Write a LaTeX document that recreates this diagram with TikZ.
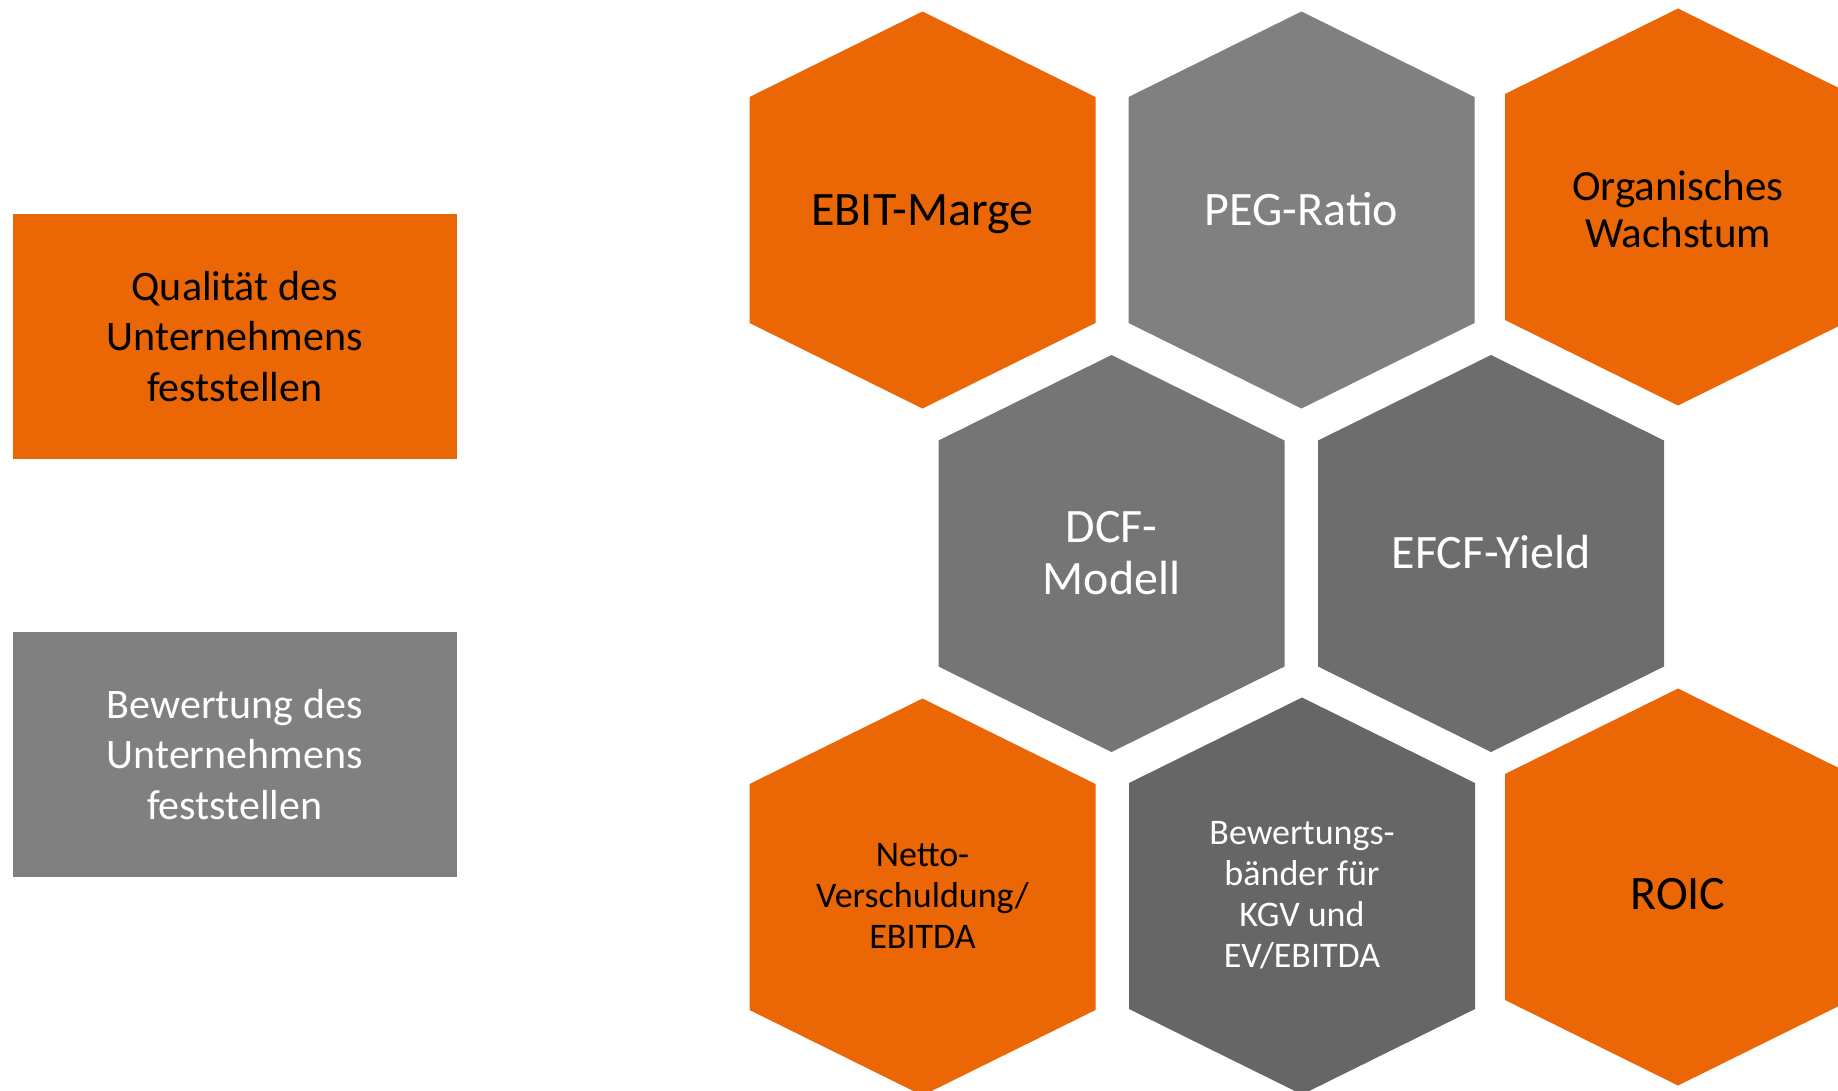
\documentclass[tikz,border=0pt]{standalone}
\usepackage{fontspec}
\setmainfont{Carlito}
\definecolor{kpiorange}{RGB}{235,102,4}
\definecolor{kpigrayA}{RGB}{128,128,128}
\definecolor{kpigrayB}{RGB}{117,117,117}
\definecolor{kpigrayC}{RGB}{109,109,109}
\definecolor{kpigrayD}{RGB}{102,102,102}

\begin{document}
\begin{tikzpicture}[x=1pt,y=-1pt,
        box/.style={rectangle,inner sep=0pt,minimum width=444pt,minimum height=244.7pt,
            align=center,font=\fontsize{42}{50.4}\selectfont},
        hexlabel/.style={inner sep=0pt,align=center,font=\fontsize{48}{52}\selectfont},
        hexsmall/.style={inner sep=0pt,align=center,font=\fontsize{36}{41}\selectfont}
    ]
    \useasboundingbox (0,0) rectangle (1838,1090);
    \clip (0,0) rectangle (1838,1090);

    % two category boxes
    \node[box,fill=kpiorange,text=black] (quali) at (234.7,336.3)
        {Qualit\"at des\\Unternehmens\\feststellen};
    \node[box,fill=kpigrayA,text=white] (bewert) at (234.7,754.3)
        {Bewertung des\\Unternehmens\\feststellen};

    % honeycomb
    \foreach \cx/\cy/\col in {922.5/210/kpiorange, 1301.5/210/kpigrayA, 1678/207/kpiorange,
            1111.5/553.5/kpigrayB, 1491/553.5/kpigrayC,
            922.5/897/kpiorange, 1302/896/kpigrayD, 1678/887/kpiorange}
        \fill[\col] (\cx,\cy) ++(0,-198.5) -- ++(173,85.5) -- ++(0,226)
            -- ++(-173,85.5) -- ++(-173,-85.5) -- ++(0,-226) -- cycle;

    \node[hexlabel,text=black] (ebit) at (922.5,214) {EBIT-Marge};
    \node[hexlabel,text=white] (peg) at (1301.5,209) {PEG-Ratio};
    \node[hexlabel,text=black,font=\fontsize{43}{46.5}\selectfont] (wachstum) at (1678,209)
        {Organisches\\Wachstum};
    \node[hexlabel,text=white] (dcf) at (1111.5,553) {DCF-\\Modell};
    \node[hexlabel,text=white] (efcf) at (1491,552) {EFCF-Yield};
    \node[hexsmall,text=black] (netto) at (922.5,895.5)
        {Netto-\\Verschuldung/\\EBITDA};
    \node[hexsmall,text=white] (baender) at (1302,895.5)
        {Bewertungs-\\b\"ander f\"ur\\KGV und\\EV/EBITDA};
    \node[hexlabel,text=black] (roic) at (1678,894) {ROIC};
\end{tikzpicture}
\end{document}
